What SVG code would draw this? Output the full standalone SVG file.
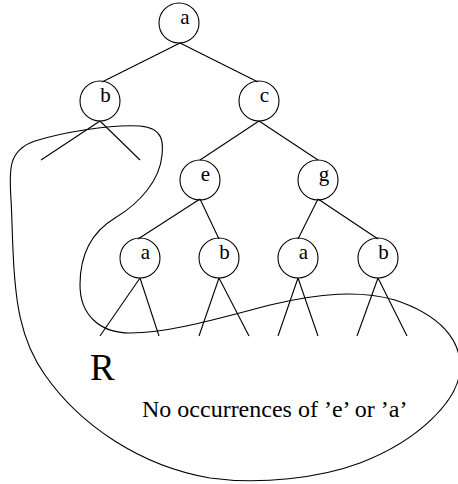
<svg xmlns="http://www.w3.org/2000/svg" width="458" height="484" viewBox="0 0 458 484">
<style>
.n{fill:none;stroke:#000;stroke-width:1.1}
.l{font-family:"Liberation Serif","Times New Roman",serif;font-size:21px;fill:#000;text-anchor:middle}
.e line{stroke:#000;stroke-width:1.1}
.t{font-family:"Liberation Serif","Times New Roman",serif;fill:#000}
</style>
<rect width="458" height="484" fill="#fff"/>
<g id="connectors" class="e">
<line x1="180" y1="43" x2="102" y2="82"/>
<line x1="180" y1="43" x2="258" y2="82"/>
<line x1="100" y1="121" x2="41" y2="160"/>
<line x1="100" y1="121" x2="140" y2="160"/>
<line x1="259" y1="121" x2="200" y2="160"/>
<line x1="259" y1="121" x2="318" y2="160"/>
<line x1="200" y1="199" x2="138" y2="239"/>
<line x1="200" y1="199" x2="219" y2="239"/>
<line x1="318" y1="199" x2="298" y2="239"/>
<line x1="318" y1="199" x2="378" y2="239"/>
<line x1="140" y1="278" x2="100" y2="336"/>
<line x1="140" y1="278" x2="159" y2="336"/>
<line x1="219" y1="278" x2="199" y2="336"/>
<line x1="219" y1="278" x2="249" y2="336"/>
<line x1="298" y1="278" x2="278" y2="336"/>
<line x1="298" y1="278" x2="318" y2="336"/>
<line x1="378" y1="278" x2="357" y2="336"/>
<line x1="378" y1="278" x2="407" y2="336"/>
</g>
<g id="n-root"><circle class="n" cx="179" cy="23" r="20"/><text class="l" x="185" y="23.5">a</text></g>
<g id="n-b"><circle class="n" cx="100" cy="101" r="20"/><text class="l" x="105.5" y="101.5">b</text></g>
<g id="n-c"><circle class="n" cx="259" cy="101" r="20"/><text class="l" x="264.5" y="101.5">c</text></g>
<g id="n-e"><circle class="n" cx="200" cy="180" r="20"/><text class="l" x="205.5" y="180.5">e</text></g>
<g id="n-g"><circle class="n" cx="318" cy="180" r="20"/><text class="l" x="324" y="180.5">g</text></g>
<g id="n-a1"><circle class="n" cx="140" cy="258" r="20"/><text class="l" x="145.5" y="258.5">a</text></g>
<g id="n-b1"><circle class="n" cx="219" cy="258" r="20"/><text class="l" x="224.5" y="258.5">b</text></g>
<g id="n-a2"><circle class="n" cx="298" cy="258" r="20"/><text class="l" x="303.5" y="258.5">a</text></g>
<g id="n-b2"><circle class="n" cx="378" cy="258" r="20"/><text class="l" x="383.5" y="258.5">b</text></g>
<g id="region-R">
<path class="n" d="M 11,200 C 9,170 8,150 35,141 C 60,133 110,124 140,126 C 165,128 163,145 162,155 C 160,180 140,203 115,218 C 95,230 80,250 80,285 C 80,315 100,333 130,333 C 170,333 220,318 270,305 C 320,293 360,290 395,300 C 440,315 462,340 460,370 C 458,400 420,440 360,463 C 320,478 260,485 210,478 C 140,466 80,425 45,375 C 20,340 15,300 13,250 C 12,230 12,215 11,200 Z"/>
<text class="t" x="90" y="380" font-size="37">R</text>
<text class="t" x="142" y="417" font-size="24">No occurrences of ’e’ or ’a’</text>
</g>
</svg>
